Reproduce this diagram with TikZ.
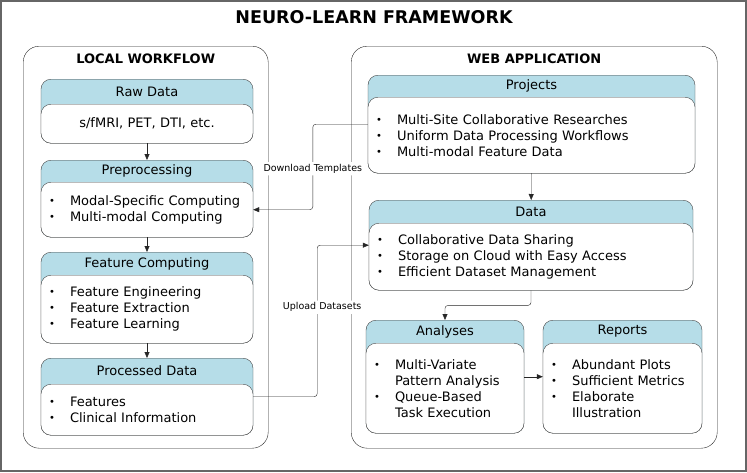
\documentclass[tikz,border=0pt]{standalone}
\usepackage{fontspec}
\setmainfont{DejaVu Sans}
\usepackage{xcolor}
\usepackage{tikz}
\usetikzlibrary{arrows.meta, positioning, calc}
\definecolor{headblue}{HTML}{B6DDE8}
\definecolor{edgegray}{HTML}{404040}
\newcommand{\bul}{\makebox[21pt][l]{\raisebox{1pt}{\fontsize{10}{10}\selectfont\textbullet}}}
\newcommand{\ind}{\makebox[21pt][l]{}}
\tikzstyle{frame}      = [draw=gray!80!black, line width=1.5pt]
\tikzstyle{panel}      = [rectangle, rounded corners=16pt, draw=black!85, anchor=north west, inner sep=0pt]
\tikzstyle{paneltitle} = [font=\fontsize{13}{15}\selectfont\bfseries]
\tikzstyle{boxouter}   = [rectangle, rounded corners=10pt, draw=edgegray, fill=headblue, anchor=north, inner sep=0pt]
\tikzstyle{boxbody}    = [rectangle, rounded corners=10pt, draw=edgegray, fill=white, anchor=south, inner xsep=8pt, inner ysep=0pt, align=left, font=\fontsize{13}{16}\selectfont]
\tikzstyle{boxtitle}   = [font=\fontsize{13}{16}\selectfont]
\tikzstyle{arrow}      = [draw=black!85, -{Triangle[length=6pt, width=5pt]}]
\tikzstyle{link}       = [arrow, rounded corners=3pt]
\tikzstyle{linklabel}  = [fill=white, inner sep=2pt, font=\fontsize{9.5}{11}\selectfont]

\begin{document}
\begin{tikzpicture}[x=1pt, y=-1pt]
\useasboundingbox (0,0) rectangle (747,472);
\draw [frame] (1,1) rectangle (746,471);
\node (title) [font=\fontsize{17.5}{20}\selectfont\bfseries] at (374,17) {NEURO-LEARN FRAMEWORK};

% panels
\node (local) [panel, minimum width=245, minimum height=402] at (23,46) {};
\node (web) [panel, minimum width=366, minimum height=402] at (351,46) {};
\node (localtitle) [paneltitle] at ($(local.north)+(0,13)$) {LOCAL WORKFLOW};
\node (webtitle) [paneltitle] at ($(web.north)+(0,13)$) {WEB APPLICATION};

% local workflow
\node (raw) [boxouter, minimum width=212, minimum height=64] at (147,79) {};
\node (rawbody) [boxbody, minimum height=39, text width=196, align=center] at (raw.south) {s/fMRI, PET, DTI, etc.};
\node (rawtitle) [boxtitle] at ($(raw.north)!.5!(rawbody.north)$) {Raw Data};

\node (prep) [boxouter, minimum width=212, minimum height=77] at (147,160) {};
\node (prepbody) [boxbody, minimum height=55, text width=196] at (prep.south) {\bul Modal-Specific Computing\\ \bul Multi-modal Computing};
\node (preptitle) [boxtitle] at ($(prep.north)!.5!(prepbody.north)$) {Preprocessing};

\node (feat) [boxouter, minimum width=212, minimum height=91] at (147,252) {};
\node (featbody) [boxbody, minimum height=68, text width=196] at (feat.south) {\bul Feature Engineering\\ \bul Feature Extraction\\ \bul Feature Learning};
\node (feattitle) [boxtitle] at ($(feat.north)!.5!(featbody.north)$) {Feature Computing};

\node (proc) [boxouter, minimum width=212, minimum height=77] at (147,358) {};
\node (procbody) [boxbody, minimum height=51, text width=196] at (proc.south) {\bul Features\\ \bul Clinical Information};
\node (proctitle) [boxtitle] at ($(proc.north)!.5!(procbody.north)$) {Processed Data};

% web application
\node (proj) [boxouter, minimum width=327, minimum height=98] at (531.5,75) {};
\node (projbody) [boxbody, minimum height=76, text width=311] at (proj.south) {\bul Multi-Site Collaborative Researches\\ \bul Uniform Data Processing Workflows\\ \bul Multi-modal Feature Data};
\node (projtitle) [boxtitle] at ($(proj.north)!.5!(projbody.north)$) {Projects};

\node (data) [boxouter, minimum width=324, minimum height=90] at (531,200) {};
\node (databody) [boxbody, minimum height=67, text width=308] at (data.south) {\bul Collaborative Data Sharing\\ \bul Storage on Cloud with Easy Access\\ \bul Efficient Dataset Management};
\node (datatitle) [boxtitle] at ($(data.north)!.5!(databody.north)$) {Data};

\node (ana) [boxouter, minimum width=158, minimum height=113] at (445,320) {};
\node (anabody) [boxbody, minimum height=90, text width=142] at (ana.south) {\bul Multi-Variate\\ \ind Pattern Analysis\\ \bul Queue-Based\\ \ind Task Execution};
\node (anatitle) [boxtitle] at ($(ana.north)!.5!(anabody.north)$) {Analyses};

\node (rep) [boxouter, minimum width=159, minimum height=113] at (622.5,320) {};
\node (repbody) [boxbody, minimum height=90, text width=143] at (rep.south) {\bul Abundant Plots\\ \bul Sufficient Metrics\\ \bul Elaborate\\ \ind Illustration};
\node (reptitle) [boxtitle] at ($(rep.north)!.5!(repbody.north)$) {Reports};

% connectors
\draw [arrow] (raw) -- (prep);
\draw [arrow] (prep) -- (feat);
\draw [arrow] (feat) -- (proc);
\draw [arrow] (proj) -- (data);
\draw [link] (data.south) -- ++(0,15) -| (ana.north);
\draw [arrow] (ana) -- (rep);
\draw [link] (proj.west) -- ++(-55,0) |- node[linklabel, pos=0.26]{Download Templates} (prepbody.east);
\draw [link] (proc.east) -- ++(64,0) |- node[linklabel, pos=0.295, xshift=5pt]{Upload Datasets} (data.west);
\end{tikzpicture}
\end{document}
